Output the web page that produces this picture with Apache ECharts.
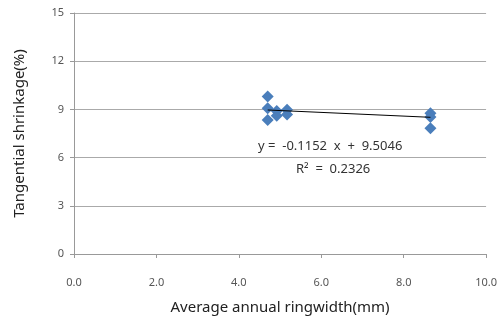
<!DOCTYPE html>
<html><head><meta charset="utf-8">
<script src="https://cdn.jsdelivr.net/npm/echarts@6/dist/echarts.min.js"></script>
<style>html,body{margin:0;padding:0;background:#fff}#c{width:500px;height:322px}</style>
</head><body><div id="c"></div>
<script>
var ringWidth = [4.70, 4.70, 4.70, 4.92, 4.92, 5.17, 5.17, 8.65, 8.65, 8.65];
var shrinkage = [9.80, 9.07, 8.34, 8.90, 8.60, 8.98, 8.68, 8.76, 8.52, 7.82];
var slope = -0.1152, intercept = 9.5046, rSquared = 0.2326;
var xTicks = [0, 2, 4, 6, 8, 10];
var yTicks = [0, 3, 6, 9, 12, 15];

var pts = ringWidth.map(function(x, i){ return [x, shrinkage[i]]; });
var xmin = Math.min.apply(null, ringWidth), xmax = Math.max.apply(null, ringWidth);
var trend = [[xmin, slope*xmin+intercept],[xmax, slope*xmax+intercept]];
var font = '"Noto Sans", "DejaVu Sans", sans-serif';

var chart = echarts.init(document.getElementById('c'));
chart.setOption({
  animation: false,
  grid: {left: 74, right: 11, top: 13, bottom: 68},
  xAxis: {
    type: 'value', min: 0, max: 10, interval: 2,
    name: 'Average annual ringwidth(mm)', nameLocation: 'middle', nameGap: 46,
    nameTextStyle: {fontSize: 15, color: '#222', fontFamily: font},
    axisLine: {lineStyle: {color: '#999'}},
    axisTick: {show: true, length: 4, lineStyle: {color: '#999'}},
    axisLabel: {fontSize: 11, color: '#555', margin: 23, fontFamily: font,
      formatter: function(v){ return v.toFixed(1); }},
    splitLine: {show: false}
  },
  yAxis: {
    type: 'value', min: 0, max: 15, interval: 3,
    name: 'Tangential shrinkage(%)', nameLocation: 'middle', nameGap: 47,
    nameTextStyle: {fontSize: 15, color: '#222', fontFamily: font},
    axisLine: {show: true, lineStyle: {color: '#999'}},
    axisTick: {show: true, length: 4, lineStyle: {color: '#999'}},
    axisLabel: {fontSize: 11, color: '#555', margin: 10, fontFamily: font},
    splitLine: {show: true, lineStyle: {color: '#aaa', width: 1}}
  },
  series: [
    {type: 'scatter', data: pts, symbol: 'diamond', symbolSize: 12,
     itemStyle: {color: '#4A7EBB', opacity: 1}, z: 3},
    {type: 'line', data: trend, symbol: 'none', lineStyle: {color: '#000', width: 1}, z: 4}
  ],
  graphic: [
    {type: 'text', left: 258, top: 140, style: {text: 'y =  -0.1152  x  +  9.5046', fontSize: 13, fill: '#333', fontFamily: font}},
    {type: 'text', left: 296, top: 163, style: {text: 'R²  =  ' + rSquared.toFixed(4), fontSize: 13, fill: '#333', fontFamily: font}}
  ]
});
</script></body></html>
